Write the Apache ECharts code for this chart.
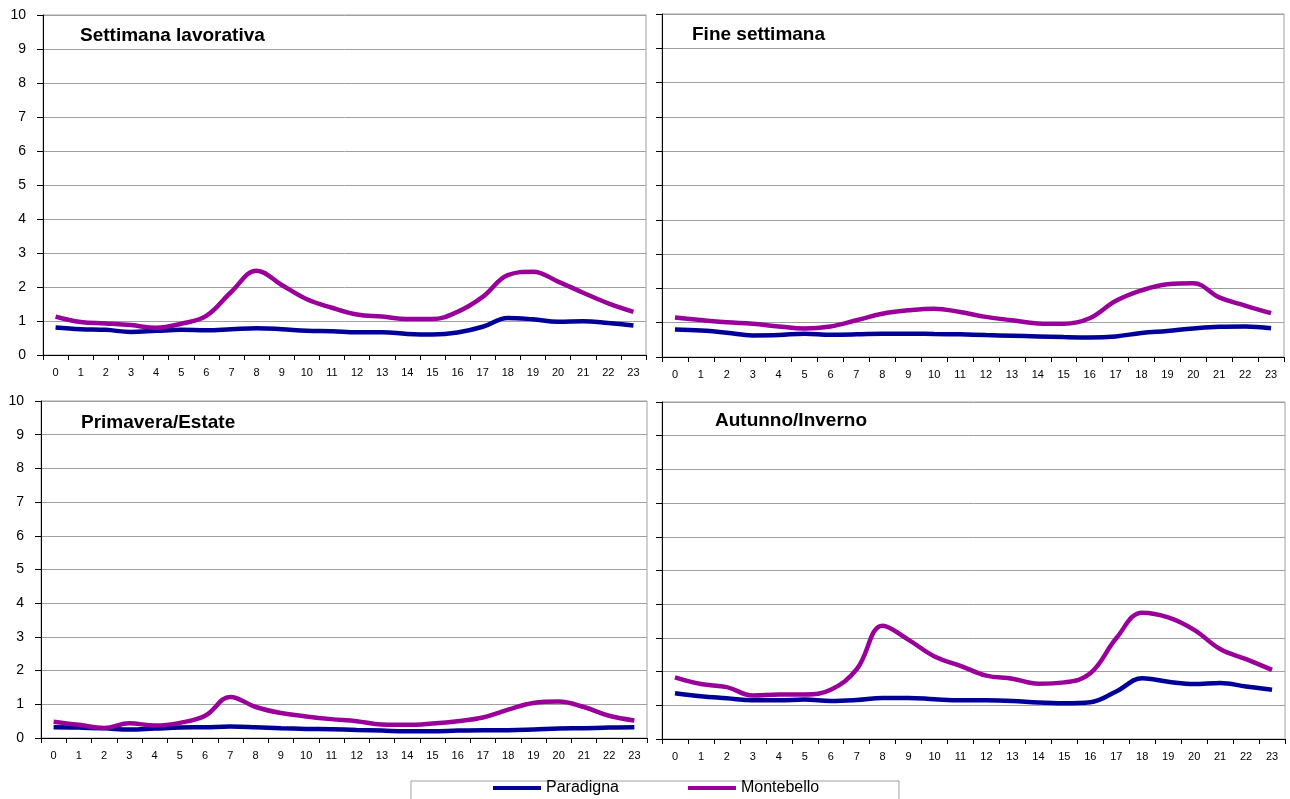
<!DOCTYPE html>
<html>
<head>
<meta charset="utf-8">
<title>Paradigna / Montebello</title>
<script src="https://cdn.jsdelivr.net/npm/echarts@6/dist/echarts.min.js"></script>
<style>
    html, body { margin: 0; padding: 0; background: #fff; }
    #chart { width: 1290px; height: 799px; }
</style>
</head>
<body>
<div id="chart"></div>
<script>
const hours = ['0','1','2','3','4','5','6','7','8','9','10','11','12','13','14','15','16','17','18','19','20','21','22','23'];
const seriesNames = ['Paradigna', 'Montebello'];
const panelTitles = ['Settimana lavorativa', 'Fine settimana', 'Primavera/Estate', 'Autunno/Inverno'];

// settimana lavorativa
const weekParadigna = [0.81,0.76,0.74,0.68,0.71,0.74,0.73,0.76,0.79,0.76,0.71,0.70,0.67,0.67,0.62,0.60,0.66,0.83,1.09,1.05,0.98,0.99,0.94,0.87];
const weekMontebello = [1.13,0.97,0.93,0.88,0.80,0.92,1.15,1.86,2.48,2.06,1.64,1.39,1.19,1.13,1.06,1.06,1.27,1.71,2.35,2.45,2.16,1.83,1.52,1.27];
// fine settimana
const weekendParadigna = [0.80,0.77,0.71,0.63,0.64,0.68,0.65,0.66,0.68,0.68,0.67,0.66,0.64,0.62,0.60,0.58,0.57,0.60,0.70,0.76,0.83,0.88,0.89,0.84];
const weekendMontebello = [1.15,1.08,1.01,0.97,0.89,0.83,0.89,1.07,1.26,1.36,1.41,1.31,1.17,1.07,0.98,0.97,1.13,1.63,1.94,2.12,2.15,1.74,1.50,1.28];
// primavera/estate
const summerParadigna = [0.32,0.31,0.29,0.25,0.28,0.31,0.32,0.34,0.32,0.29,0.27,0.26,0.24,0.22,0.20,0.20,0.22,0.23,0.23,0.25,0.28,0.29,0.31,0.32];
const summerMontebello = [0.48,0.39,0.30,0.44,0.37,0.45,0.66,1.22,0.92,0.74,0.64,0.56,0.50,0.40,0.39,0.43,0.50,0.61,0.84,1.04,1.08,0.92,0.66,0.52];
// autunno/inverno
const winterParadigna = [1.36,1.27,1.21,1.15,1.15,1.17,1.13,1.16,1.22,1.22,1.18,1.15,1.15,1.13,1.08,1.06,1.09,1.41,1.80,1.70,1.63,1.66,1.56,1.46];
const winterMontebello = [1.83,1.63,1.54,1.29,1.32,1.32,1.46,2.07,3.36,2.94,2.45,2.17,1.88,1.79,1.64,1.68,1.95,2.99,3.75,3.61,3.24,2.67,2.37,2.05];

const yTicks = ['0','1','2','3','4','5','6','7','8','9','10'];

const panels = [
    [weekParadigna, weekMontebello],
    [weekendParadigna, weekendMontebello],
    [summerParadigna, summerMontebello],
    [winterParadigna, winterMontebello]
];

const FONT = 'Liberation Sans, Arial, sans-serif';
const colors = ['#000099', '#990099'];

const grids = [
    {left: 43, top: 15, width: 603, height: 340},
    {left: 662, top: 14, width: 622, height: 343},
    {left: 41, top: 401, width: 606, height: 337},
    {left: 662, top: 402, width: 623, height: 337}
];

const titlePos = [[80, 36], [692, 35], [81, 423], [715, 421]];

let chart = echarts.init(document.getElementById('chart'));

const option = {
    backgroundColor: '#fff',
    animation: false,
    color: colors,
    grid: grids.map(g => Object.assign({
        show: true,
        borderColor: '#a0a0a0',
        borderWidth: 1,
        backgroundColor: 'transparent'
    }, g)),
    xAxis: grids.map((g, i) => ({
        type: 'category',
        gridIndex: i,
        data: hours,
        boundaryGap: true,
        axisLine: {lineStyle: {color: '#000', width: 1}},
        axisTick: {show: true, interval: 0, length: 5, lineStyle: {color: '#000'}},
        axisLabel: {interval: 0, color: '#000', fontSize: 11, fontFamily: FONT, margin: 12},
        splitLine: {show: false}
    })),
    yAxis: grids.map((g, i) => ({
        type: 'value',
        gridIndex: i,
        min: 0,
        max: 10,
        interval: 1,
        axisLine: {show: true, lineStyle: {color: '#000', width: 1}},
        axisTick: {show: true, length: 6, lineStyle: {color: '#000'}},
        axisLabel: {
            show: i % 2 === 0,
            color: '#000',
            fontSize: 14,
            fontFamily: FONT,
            margin: 17,
            formatter: v => yTicks[v]
        },
        splitLine: {show: true, lineStyle: {color: '#a0a0a0', width: 1}}
    })),
    legend: {
        data: seriesNames,
        left: 488,
        top: 775,
        icon: 'rect',
        itemWidth: 48,
        itemHeight: 4,
        itemGap: 69,
        textStyle: {color: '#000', fontSize: 16, fontFamily: FONT}
    },
    graphic: [
        {
            type: 'rect',
            shape: {x: 411, y: 781, width: 488, height: 40},
            style: {fill: 'transparent', stroke: '#a0a0a0', lineWidth: 1},
            silent: true
        }
    ].concat(panelTitles.map((t, i) => ({
        type: 'text',
        x: titlePos[i][0],
        y: titlePos[i][1],
        style: {
            text: t,
            fill: '#000',
            font: 'bold 19px ' + FONT,
            verticalAlign: 'middle'
        }
    }))),
    series: []
};

panels.forEach((pair, i) => {
    pair.forEach((vals, k) => {
        option.series.push({
            name: seriesNames[k],
            type: 'line',
            xAxisIndex: i,
            yAxisIndex: i,
            data: vals,
            smooth: 0.4,
            showSymbol: false,
            symbol: 'none',
            lineStyle: {width: 4.5, color: colors[k]},
            z: 3 + k
        });
    });
});

chart.setOption(option);

window.addEventListener('resize', function () {
    chart.resize();
});
</script>
</body>
</html>
